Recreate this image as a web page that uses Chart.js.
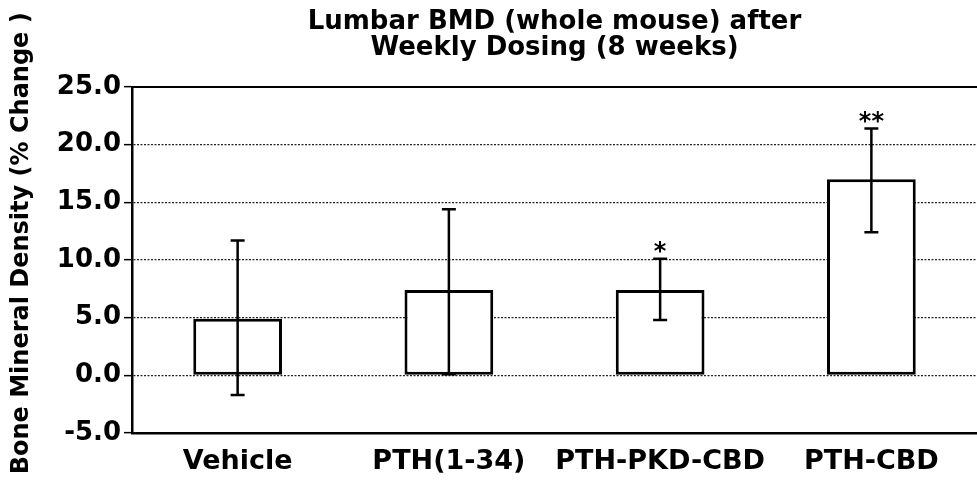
<!DOCTYPE html>
<html>
<head>
<meta charset="utf-8">
<script src="https://cdn.jsdelivr.net/npm/chart.js@4.4.1/dist/chart.umd.min.js"></script>
<style>
  html, body { margin: 0; padding: 0; background: #fff; overflow: hidden; }
</style>
</head>
<body>
<canvas id="bmdChart" width="977" height="481"></canvas>
<script>
// ── DATA ────────────────────────────────────────────────────────────
const groups = ['Vehicle', 'PTH(1-34)', 'PTH-PKD-CBD', 'PTH-CBD'];
const meanChange = [4.9, 7.4, 7.4, 17.0];
const errHigh = [11.7, 14.4, 10.1, 21.4];
const errLow = [-1.7, 0.1, 4.8, 12.4];
const significance = ['', '', '*', '**'];
const yTicks = [-5, 0, 5, 10, 15, 20, 25];

const FONT = "'DejaVu Sans', sans-serif";

// ── ERROR BARS + SIGNIFICANCE MARKS ─────────────────────────────────
const errorBars = {
  id: 'errorBars',
  afterDatasetsDraw(chart) {
    const { ctx, scales: { y } } = chart;
    const meta = chart.getDatasetMeta(0);
    const cap = 7;
    ctx.save();
    ctx.strokeStyle = '#000';
    ctx.lineWidth = 2.5;
    ctx.fillStyle = '#000';
    ctx.font = 'bold 24px ' + FONT;
    ctx.textAlign = 'center';
    ctx.textBaseline = 'alphabetic';
    meta.data.forEach((bar, i) => {
      const x = bar.x;
      const top = y.getPixelForValue(errHigh[i]);
      const bot = y.getPixelForValue(errLow[i]);
      ctx.beginPath();
      ctx.moveTo(x, top); ctx.lineTo(x, bot);
      ctx.moveTo(x - cap, top); ctx.lineTo(x + cap, top);
      ctx.moveTo(x - cap, bot); ctx.lineTo(x + cap, bot);
      ctx.stroke();
      if (significance[i]) ctx.fillText(significance[i], x, top);
    });
    ctx.restore();
  }
};

// ── CHART ───────────────────────────────────────────────────────────
new Chart(document.getElementById('bmdChart'), {
  type: 'bar',
  data: {
    labels: groups,
    datasets: [{
      data: meanChange,
      backgroundColor: '#fff',
      borderColor: '#000',
      borderWidth: 3,
      borderSkipped: false,
      barPercentage: 0.42,
      categoryPercentage: 1
    }]
  },
  options: {
    responsive: false,
    animation: false,
    layout: { padding: 0 },
    scales: {
      x: {
        grid: { display: false, drawTicks: false },
        border: { display: true, color: '#000', width: 2.5 },
        ticks: {
          color: '#000',
          font: { family: FONT, size: 27, weight: 'bold' },
          padding: 13,
          maxRotation: 0,
          minRotation: 0,
          autoSkip: false
        },
        afterFit: s => { s.height = 48; }
      },
      x2: {
        type: 'category',
        labels: groups,
        position: 'top',
        grid: { display: false, drawTicks: false },
        ticks: { display: false },
        border: { display: true, color: '#000', width: 2 },
        afterFit: s => { s.height = 0; }
      },
      y: {
        min: -5,
        max: 25,
        afterBuildTicks: s => { s.ticks = yTicks.map(v => ({ value: v })); },
        grid: {
          color: '#222',
          lineWidth: 1.3,
          tickLength: 8,
          tickColor: '#000',
          tickWidth: 1.5,
          tickBorderDash: []
        },
        border: { display: true, color: '#000', width: 2.5, dash: [2, 1.5] },
        ticks: {
          color: '#000',
          font: { family: FONT, size: 26, weight: 'bold' },
          padding: 3,
          callback: v => v.toFixed(1)
        },
        title: {
          display: true,
          text: '    Bone Mineral Density (% Change )',
          color: '#000',
          font: { family: FONT, size: 24, weight: 'bold' },
          padding: { top: 7, bottom: 0 }
        },
        afterFit: s => { s.width = 132; }
      }
    },
    plugins: {
      legend: { display: false },
      tooltip: { enabled: false },
      title: {
        display: true,
        fullSize: false,
        text: ['Lumbar BMD (whole mouse) after', 'Weekly Dosing (8 weeks)'],
        color: '#000',
        font: { family: FONT, size: 26, weight: 'bold', lineHeight: 1.0 },
        padding: { top: 9, bottom: 26 }
      }
    }
  },
  plugins: [errorBars]
});
</script>
</body>
</html>
